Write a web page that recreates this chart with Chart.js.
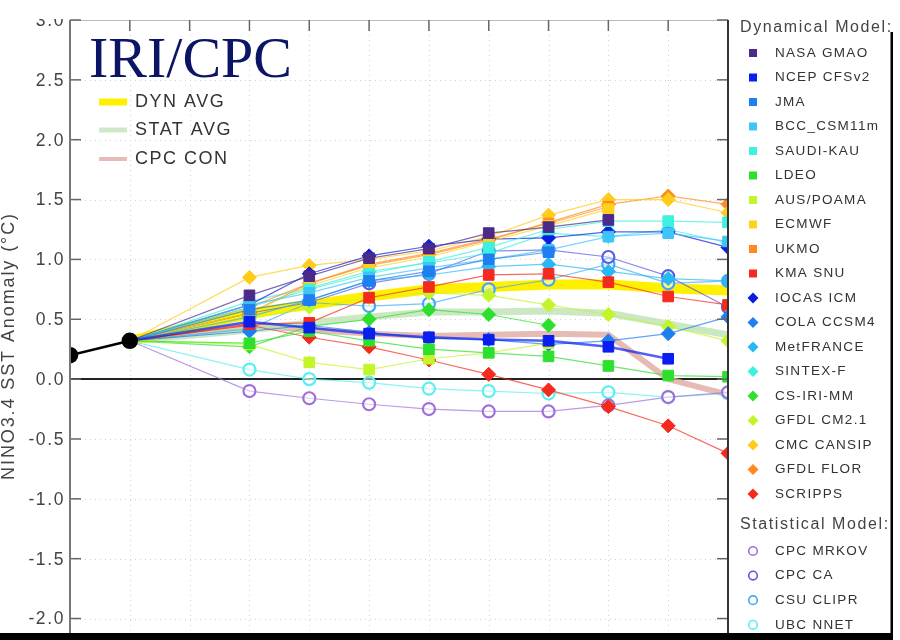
<!DOCTYPE html>
<html lang="en">
<head>
<meta charset="UTF-8">
<title>NINO3.4 SST plume</title>
<script src="https://cdn.jsdelivr.net/npm/chart.js"></script>
<style>
  body { margin: 0; background: #fff; }
  #wrap { width: 900px; height: 640px; }
</style>
</head>
<body>
<div id="wrap"><canvas id="plume" width="900" height="640"></canvas></div>
<script>
// x categories (lead index), y ticks
const leads = ['0', '1', '2', '3', '4', '5', '6', '7', '8', '9', '10', '11'];
const yTicks = [-2.0, -1.5, -1.0, -0.5, 0.0, 0.5, 1.0, 1.5, 2.0, 2.5, 3.0];
const observed = [0.20, 0.32];
const fcStart = 3; // first forecast lead

// dynamical models (forecast values from lead 3 on)
const nasaGmao = [0.70, 0.86, 1.01, 1.09, 1.22, 1.27, 1.33];
const ncepCfs  = [0.48, 0.43, 0.38, 0.35, 0.33, 0.32, 0.27, 0.17];
const jma      = [0.58, 0.66, 0.82, 0.90, 1.00, 1.06];
const bccCsm   = [0.62, 0.72, 0.85, 0.93, 1.00, 1.08, 1.19, 1.22, 1.15];
const saudiKau = [0.60, 0.75, 0.88, 0.98, 1.10, 1.25, 1.32, 1.32, 1.31];
const ldeo     = [0.30, 0.40, 0.32, 0.25, 0.22, 0.19, 0.11, 0.03, 0.02];
const ausPoama = [0.29, 0.14, 0.08, 0.17, 0.22, 0.30];
const ecmwf    = [0.55, 0.78, 0.93, 1.02, 1.15, 1.28, 1.42];
const ukmo     = [0.60, 0.80, 0.96, 1.05, 1.17, 1.30, 1.44];
const kmaSnu   = [0.46, 0.47, 0.68, 0.77, 0.87, 0.88, 0.81, 0.69, 0.62];
const iocas    = [0.62, 0.88, 1.03, 1.11, 1.17, 1.18, 1.23, 1.23, 1.10];
const colaCcsm = [0.40, 0.45, 0.39, 0.34, 0.33, 0.29, 0.32, 0.38, 0.52];
const metFrance = [0.52, 0.66, 0.82, 0.87, 0.94, 0.96, 0.90, 0.84, 0.82];
const sintexF  = [0.65, 0.76, 0.90, 0.97, 1.05, 1.22, 1.19, 1.25, 1.14];
const csIriMm  = [0.27, 0.44, 0.50, 0.58, 0.54, 0.45];
const gfdlCm21 = [0.50, 0.60, 0.68, 0.72, 0.70, 0.62, 0.54, 0.44, 0.32];
const cmcCansip = [0.85, 0.95, 1.00, 1.07, 1.19, 1.37, 1.50, 1.50, 1.39];
const gfdlFlor = [0.55, 0.80, 0.95, 1.04, 1.16, 1.31, 1.46, 1.53, 1.46];
const scripps  = [0.45, 0.35, 0.27, 0.16, 0.04, -0.09, -0.23, -0.39, -0.62];

// statistical models
const cpcMrkov = [-0.10, -0.16, -0.21, -0.25, -0.27, -0.27, -0.22, -0.15, -0.11];
const cpcCa    = [0.55, 0.64, 0.80, 0.88, 1.07, 1.08, 1.02, 0.86, 0.60];
const csuClipr = [0.42, 0.64, 0.61, 0.63, 0.75, 0.83, 0.96, 0.80, 0.82];
const ubcNnet  = [0.08, 0.00, -0.03, -0.08, -0.10, -0.12, -0.11, -0.15, -0.12];

// averages
const dynAvg  = [0.55, 0.62, 0.69, 0.75, 0.77, 0.79, 0.79, 0.76, 0.74];
const statAvg = [0.41, 0.47, 0.52, 0.56, 0.56, 0.57, 0.55, 0.46, 0.37];
const cpcCon  = [0.45, 0.41, 0.38, 0.36, 0.37, 0.38, 0.37, 0.00, -0.13];

const dynNames = ['NASA GMAO', 'NCEP CFSv2', 'JMA', 'BCC_CSM11m', 'SAUDI-KAU', 'LDEO', 'AUS/POAMA',
  'ECMWF', 'UKMO', 'KMA SNU', 'IOCAS ICM', 'COLA CCSM4', 'MetFRANCE', 'SINTEX-F', 'CS-IRI-MM',
  'GFDL CM2.1', 'CMC CANSIP', 'GFDL FLOR', 'SCRIPPS'];
const dynColors = ['#4b2a8c', '#0a1ef0', '#1f7ff0', '#3fc4f8', '#3ef0e0', '#2ee02e', '#c4f52a',
  '#ffd21a', '#ff8a1e', '#f52a1e', '#0a1ee0', '#1f7ff0', '#2ab8f5', '#3ef0e0', '#2ee02e',
  '#c4f52a', '#ffcc1a', '#ff8a1e', '#f52a1e'];
const dynValues = [nasaGmao, ncepCfs, jma, bccCsm, saudiKau, ldeo, ausPoama, ecmwf, ukmo, kmaSnu,
  iocas, colaCcsm, metFrance, sintexF, csIriMm, gfdlCm21, cmcCansip, gfdlFlor, scripps];

const statNames = ['CPC MRKOV', 'CPC CA', 'CSU CLIPR', 'UBC NNET'];
const statColors = ['#a070d8', '#5a5ae0', '#40a8f8', '#5af0f0'];
const statValues = [cpcMrkov, cpcCa, csuClipr, ubcNnet];

function fade(hex, a) {
  const n = parseInt(hex.slice(1), 16);
  return `rgba(${n >> 16},${(n >> 8) & 255},${n & 255},${a})`;
}

function seriesData(vals) {
  const d = leads.map(() => null);
  d[1] = observed[observed.length - 1];
  vals.forEach((v, k) => { d[fcStart + k] = v; });
  return d;
}

// thin grey line from the last observation to the first forecast
const connector = {
  borderColor: c => c.p0DataIndex === 1 ? 'rgba(40,40,40,0.55)' : undefined,
  borderWidth: c => c.p0DataIndex === 1 ? 0.8 : undefined
};

function modelSet(name, color, vals, style, width) {
  const open = style === 'circle';
  const r = open ? 6 : (style === 'rect' ? 7.5 : 7);
  return {
    label: name,
    data: seriesData(vals),
    borderColor: fade(color, 0.7),
    borderWidth: width || 1.2,
    pointStyle: style,
    pointRadius: c => c.dataIndex < fcStart ? 0 : r,
    pointBackgroundColor: open ? 'rgba(255,255,255,0.5)' : color,
    pointBorderColor: color,
    pointBorderWidth: open ? 2.2 : 1,
    spanGaps: true,
    segment: connector,
    order: 0
  };
}

function avgSet(name, color, vals, width) {
  return {
    label: name,
    data: seriesData(vals),
    borderColor: color,
    borderWidth: width,
    pointRadius: 0,
    spanGaps: true,
    segment: connector,
    order: 1
  };
}

const datasets = [{
  label: 'Observed',
  data: observed.concat(leads.slice(observed.length).map(() => null)),
  borderColor: '#000',
  borderWidth: 2.5,
  pointRadius: 7,
  pointBackgroundColor: '#000',
  pointBorderColor: '#000',
  clip: 0,
  order: 0
}];
dynNames.forEach((n, i) => {
  datasets.push(modelSet(n, dynColors[i], dynValues[i], i < 10 ? 'rect' : 'rectRot', n === 'NCEP CFSv2' ? 2.5 : 0));
});
statNames.forEach((n, i) => {
  datasets.push(modelSet(n, statColors[i], statValues[i], 'circle'));
});
datasets.push(avgSet('DYN AVG', '#fff000', dynAvg, 10));
datasets.push(avgSet('STAT AVG', 'rgba(190,226,180,0.8)', statAvg, 7));
datasets.push(avgSet('CPC CON', 'rgba(222,170,160,0.8)', cpcCon, 6));

function txt(ctx, s, x, y, size, color, align, ls, family) {
  ctx.font = size + 'px ' + (family || '"Liberation Sans", Arial, sans-serif');
  ctx.fillStyle = color;
  ctx.textAlign = align;
  ctx.textBaseline = 'middle';
  if ('letterSpacing' in ctx) ctx.letterSpacing = ls || '0px';
  ctx.fillText(s, x, y);
  if ('letterSpacing' in ctx) ctx.letterSpacing = '0px';
}

function marker(ctx, style, color, x, y) {
  ctx.save();
  ctx.fillStyle = color;
  ctx.strokeStyle = color;
  ctx.beginPath();
  if (style === 'rect') {
    ctx.rect(x - 4, y - 4, 8, 8);
    ctx.fill();
  } else if (style === 'rectRot') {
    ctx.moveTo(x, y - 5.5); ctx.lineTo(x + 5.5, y); ctx.lineTo(x, y + 5.5); ctx.lineTo(x - 5.5, y);
    ctx.closePath();
    ctx.fill();
  } else {
    ctx.lineWidth = 1.6;
    ctx.arc(x, y, 4.3, 0, Math.PI * 2);
    ctx.stroke();
  }
  ctx.restore();
}

function hline(ctx, x1, x2, y) { ctx.beginPath(); ctx.moveTo(x1, y); ctx.lineTo(x2, y); ctx.stroke(); }
function vline(ctx, x, y1, y2) { ctx.beginPath(); ctx.moveTo(x, y1); ctx.lineTo(x, y2); ctx.stroke(); }

const decor = {
  id: 'decor',
  beforeDatasetsDraw(chart) {
    const { ctx, chartArea: a } = chart;
    const xs = chart.scales.x, ys = chart.scales.y;
    ctx.save();
    ctx.strokeStyle = '#d0d0d0';
    ctx.lineWidth = 1;
    ctx.setLineDash([1, 4]);
    yTicks.forEach(v => hline(ctx, a.left, a.right, Math.round(ys.getPixelForValue(v)) + 0.5));
    leads.forEach((l, i) => {
      if (i > 0) vline(ctx, Math.round(xs.getPixelForValue(i)) + 0.5, a.top, a.bottom);
    });
    ctx.setLineDash([]);
    ctx.strokeStyle = '#222';
    ctx.lineWidth = 2;
    hline(ctx, a.left, a.right, ys.getPixelForValue(0));
    ctx.restore();
  },
  afterDatasetsDraw(chart) {
    const { ctx, chartArea: a, width: W, height: H } = chart;
    const xs = chart.scales.x, ys = chart.scales.y;
    ctx.save();

    // legend panel covers the right end of the plot
    ctx.fillStyle = '#fff';
    ctx.fillRect(a.right + 1, 0, W - a.right, H);

    // y tick labels, then the white strip that cuts the top one
    yTicks.forEach(v => txt(ctx, v.toFixed(1), 65, ys.getPixelForValue(v) + 1, 17.5, '#444', 'right', '1.6px'));
    ctx.fillStyle = '#fff';
    ctx.fillRect(0, 0, a.right + 1, a.top - 1);

    // axes and inward ticks
    ctx.strokeStyle = '#bbb'; ctx.lineWidth = 1;
    hline(ctx, a.left, a.right, a.top + 0.5);
    ctx.strokeStyle = '#666'; ctx.lineWidth = 1.5;
    yTicks.forEach(v => {
      const py = ys.getPixelForValue(v);
      hline(ctx, a.left, a.left + 11, py);
      hline(ctx, a.right - 11, a.right, py);
    });
    leads.forEach((l, i) => {
      if (i > 0 && i < leads.length - 1) vline(ctx, xs.getPixelForValue(i), a.top, a.top + 11);
    });
    ctx.strokeStyle = '#777'; ctx.lineWidth = 2;
    vline(ctx, a.left, a.top, H);
    ctx.strokeStyle = '#333';
    vline(ctx, a.right, a.top, H);

    // frame bits at bottom and right of legend
    ctx.fillStyle = '#000';
    ctx.fillRect(0, 633, 893, 7);
    ctx.fillRect(890.5, 32, 2.5, H - 32);

    // axis title
    ctx.save();
    ctx.translate(14, 346);
    ctx.rotate(-Math.PI / 2);
    ctx.font = '18px "Liberation Sans", Arial, sans-serif';
    ctx.fillStyle = '#444';
    ctx.textAlign = 'center';
    ctx.textBaseline = 'alphabetic';
    if ('letterSpacing' in ctx) ctx.letterSpacing = '1.9px';
    ctx.fillText('NINO3.4 SST Anomaly (°C)', 0, 0);
    if ('letterSpacing' in ctx) ctx.letterSpacing = '0px';
    ctx.restore();

    // logo
    ctx.font = '58px "Liberation Serif", "Times New Roman", serif';
    ctx.fillStyle = '#0c1466';
    ctx.textAlign = 'left';
    ctx.textBaseline = 'alphabetic';
    ctx.fillText('IRI/CPC', 89, 77);

    // averages legend
    const avgKeys = [['DYN AVG', '#fff000', 7, 102], ['STAT AVG', '#cfe8c8', 5, 130], ['CPC CON', '#e8bcb6', 4, 159]];
    avgKeys.forEach(k => {
      ctx.strokeStyle = k[1]; ctx.lineWidth = k[2];
      hline(ctx, 99, 127, k[3]);
      txt(ctx, k[0], 135, k[3], 18, '#333', 'left', '1.5px');
    });

    // model legend
    txt(ctx, 'Dynamical Model:', 740, 28, 16, '#444', 'left', '1.6px');
    dynNames.forEach((n, i) => {
      const y = 53 + i * 24.5;
      marker(ctx, i < 10 ? 'rect' : 'rectRot', dynColors[i], 753, y);
      txt(ctx, n, 775, y, 13.5, '#333', 'left', '1.3px');
    });
    txt(ctx, 'Statistical Model:', 740, 525, 16, '#444', 'left', '1.6px');
    statNames.forEach((n, i) => {
      const y = 551 + i * 24.6;
      marker(ctx, 'circle', statColors[i], 753, y);
      txt(ctx, n, 775, y, 13.5, '#333', 'left', '1.3px');
    });
    ctx.restore();
  }
};

new Chart(document.getElementById('plume'), {
  type: 'line',
  data: { labels: leads, datasets: datasets },
  options: {
    responsive: false,
    animation: false,
    layout: { padding: { left: 70, right: 172, top: 20, bottom: 8 } },
    scales: {
      x: { display: false, offset: false },
      y: { display: false, min: -2.1, max: 3.0 }
    },
    plugins: { legend: { display: false }, tooltip: { enabled: false } }
  },
  plugins: [decor]
});
</script>
</body>
</html>
